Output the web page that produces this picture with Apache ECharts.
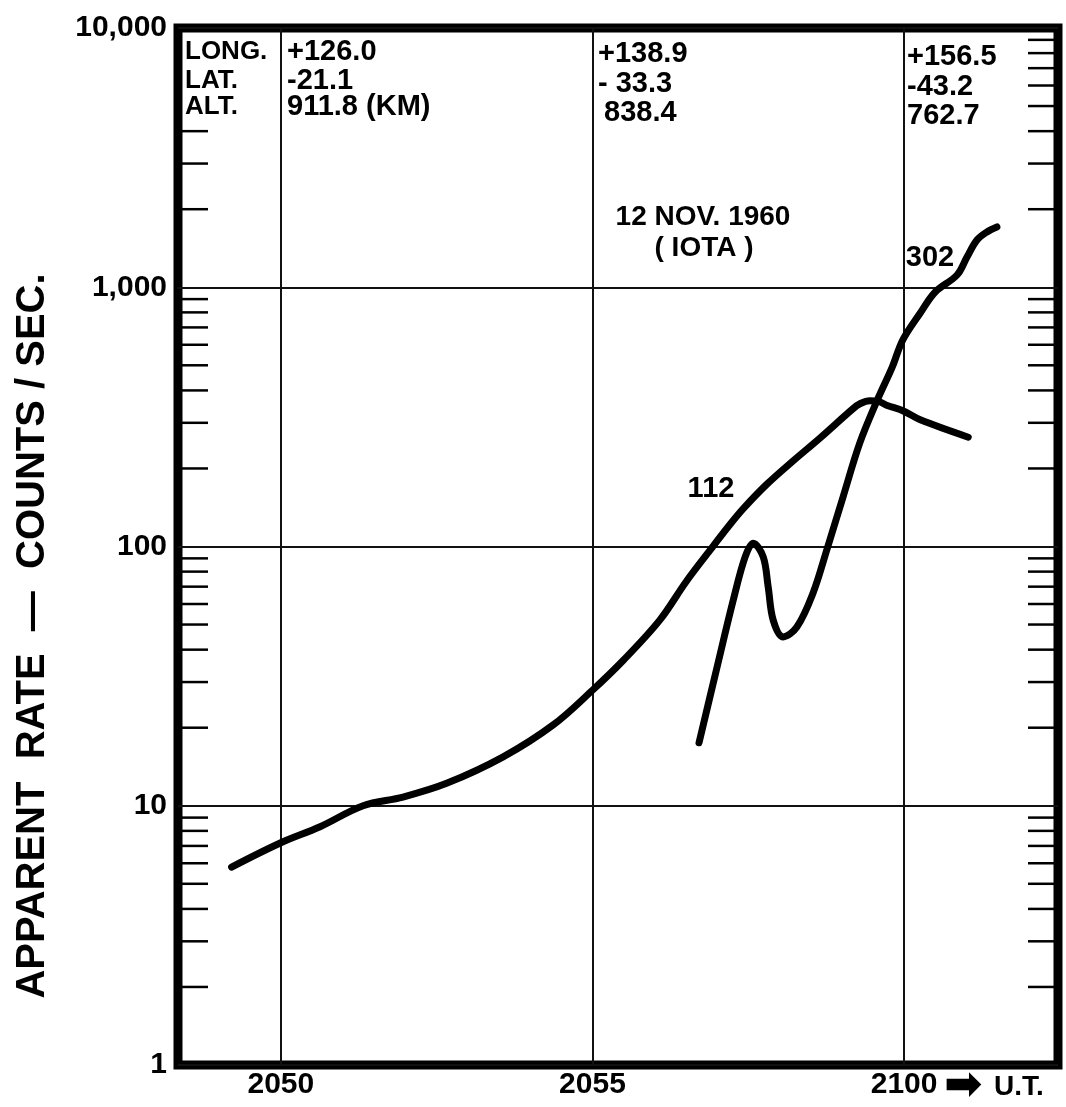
<!DOCTYPE html>
<html>
<head>
<meta charset="utf-8">
<title>Apparent rate, 12 Nov 1960 (IOTA)</title>
<script src="https://cdn.jsdelivr.net/npm/echarts@6/dist/echarts.min.js"></script>
<style>
  html, body { margin: 0; padding: 0; background: #fff; }
  #chart { width: 1066px; height: 1107px; }
</style>
</head>
<body>
<div id="chart"></div>
<script>
// x = minutes after 20:00 U.T. (60 -> 2100)
var xMin = 48.35, xMax = 62.47;
var xTicks = [50, 55, 60];
var xTickLabels = ['2050', '2055', '2100'];

// curve "112"
var c112x = [49.21, 50.00, 50.63, 51.32, 51.96, 52.66, 53.56, 54.37, 55.00, 55.50, 56.08, 56.50, 56.89, 57.20, 57.42, 57.80, 58.22, 58.65, 59.18, 59.30, 59.45, 59.60, 59.73, 59.98, 60.26, 61.03];
var c112y = [5.8, 7.2, 8.3, 10.0, 10.8, 12.2, 15.4, 20.5, 27.9, 36.5, 52, 73, 97, 121, 140, 174, 214, 262, 340, 356, 365, 362, 350, 334, 308, 264];

// curve "302"
var c302x = [56.71, 57.00, 57.26, 57.45, 57.58, 57.74, 57.82, 57.90, 58.06, 58.28, 58.54, 58.76, 59.02, 59.29, 59.57, 59.81, 59.98, 60.26, 60.50, 60.85, 61.01, 61.17, 61.33, 61.49];
var c302y = [17.5, 34.3, 62.2, 91.2, 103, 91.2, 69.8, 52.0, 44.8, 48.9, 66.2, 97.0, 155, 251, 367, 492, 627, 796, 959, 1115, 1308, 1521, 1634, 1708];

// small inward ticks (left side stops under the position box)
var leftMinor = [2, 3, 4, 5, 6, 7, 8, 9, 20, 30, 40, 50, 60, 70, 80, 90, 200, 300, 400, 500, 600, 700, 800, 900, 2000, 3000, 4000];
var rightMinor = [2, 3, 4, 5, 6, 7, 8, 9, 20, 30, 40, 50, 60, 70, 80, 90, 200, 300, 400, 500, 600, 700, 800, 900, 2000, 3000, 4000, 5000, 6000, 7000, 8000, 9000];

var FONT = '"Liberation Sans", Arial, sans-serif';

function pairs(xs, ys) {
  return xs.map(function (x, i) { return [x, ys[i]]; });
}

function tickRender(dir) {
  return function (params, api) {
    var p = api.coord([api.value(0), api.value(1)]);
    return {
      type: 'line',
      shape: { x1: p[0], y1: p[1], x2: p[0] + dir * 30, y2: p[1] },
      style: { stroke: '#000', lineWidth: 2.5 }
    };
  };
}

function txt(text, x, y, size, align, family) {
  return {
    type: 'text',
    x: x, y: y,
    style: {
      text: text,
      font: 'bold ' + size + 'px ' + (family || FONT),
      fill: '#000',
      align: align || 'left',
      verticalAlign: 'middle'
    }
  };
}

var chart = echarts.init(document.getElementById('chart'));

var option = {
  animation: false,
  backgroundColor: '#fff',
  grid: {
    left: 178, right: 8, top: 28, bottom: 42,
    show: true,
    borderColor: '#000',
    borderWidth: 9
  },
  xAxis: {
    type: 'value',
    min: xMin,
    max: xMax,
    axisLine: { show: false },
    axisTick: { show: false, customValues: xTicks },
    axisLabel: {
      customValues: xTicks,
      margin: 5,
      color: '#000',
      fontFamily: FONT,
      fontWeight: 'bold',
      fontSize: 30,
      formatter: function (v) {
        var i = xTicks.indexOf(v);
        return i >= 0 ? xTickLabels[i] : '';
      }
    },
    splitLine: { show: true, lineStyle: { color: '#111', width: 2 } }
  },
  yAxis: {
    type: 'log',
    logBase: 10,
    min: 1,
    max: 10000,
    axisLine: { show: false },
    axisTick: { show: false },
    axisLabel: {
      margin: 11,
      color: '#000',
      fontFamily: FONT,
      fontWeight: 'bold',
      fontSize: 30,
      formatter: function (v) { return Math.round(v).toLocaleString('en-US'); }
    },
    splitLine: { show: true, lineStyle: { color: '#111', width: 2 } }
  },
  series: [
    {
      type: 'custom',
      silent: true,
      renderItem: tickRender(1),
      data: leftMinor.map(function (v) { return [xMin, v]; })
    },
    {
      type: 'custom',
      silent: true,
      renderItem: tickRender(-1),
      data: rightMinor.map(function (v) { return [xMax, v]; })
    },
    {
      name: '112',
      type: 'line',
      smooth: 0.35,
      showSymbol: false,
      lineStyle: { color: '#000', width: 7, cap: 'round', join: 'round' },
      data: pairs(c112x, c112y)
    },
    {
      name: '302',
      type: 'line',
      smooth: 0.35,
      showSymbol: false,
      lineStyle: { color: '#000', width: 7, cap: 'round', join: 'round' },
      data: pairs(c302x, c302y)
    }
  ],
  graphic: [
    txt('APPARENT  RATE  —  COUNTS / SEC.', 0, 0, 40, 'center'),
    txt('LONG.', 185, 52, 26),
    txt('LAT.', 185, 81, 26),
    txt('ALT.', 185, 107, 26),
    txt('+126.0', 287, 52, 29),
    txt('-21.1', 287, 81, 29),
    txt('911.8 (KM)', 287, 107, 29),
    txt('+138.9', 598, 54, 29),
    txt('- 33.3', 598, 84, 29),
    txt('838.4', 604, 113, 29),
    txt('+156.5', 907, 57, 29),
    txt('-43.2', 907, 87, 29),
    txt('762.7', 907, 116, 29),
    txt('12 NOV. 1960', 703, 217, 28, 'center'),
    txt('( IOTA )', 704, 248, 28, 'center'),
    txt('112', 711, 489, 29, 'center'),
    txt('302', 930, 258, 29, 'center'),
    txt('➡', 944, 1087, 46, 'left', '"DejaVu Sans", sans-serif'),
    txt('U.T.', 994, 1087, 28)
  ]
};

// rotate the axis title (reads bottom to top)
option.graphic[0].x = 33;
option.graphic[0].y = 636;
option.graphic[0].rotation = Math.PI / 2;

chart.setOption(option);
</script>
</body>
</html>
